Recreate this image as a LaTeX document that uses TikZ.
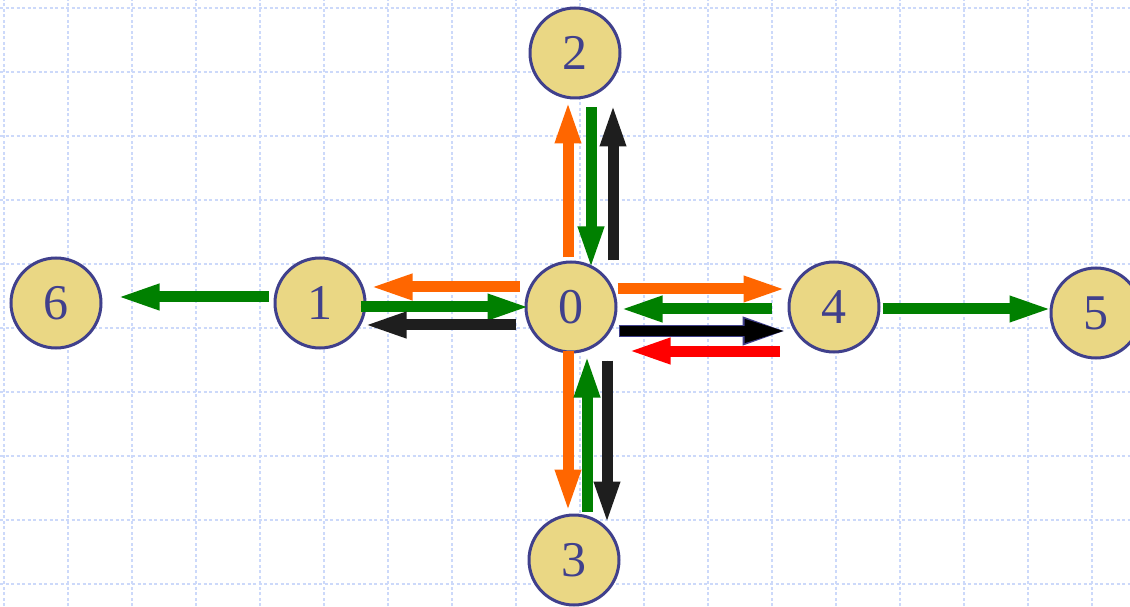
\documentclass[tikz,border=0pt]{standalone}
\usepackage{fontspec}
\setmainfont{Liberation Serif}
\usetikzlibrary{arrows.meta,positioning}

\definecolor{gridblue}{RGB}{204,217,250}
\definecolor{nodefill}{RGB}{234,215,132}
\definecolor{nodeline}{RGB}{64,64,140}
\definecolor{orng}{RGB}{255,102,0}
\definecolor{grn}{RGB}{0,128,0}
\definecolor{blk}{RGB}{30,30,30}
\definecolor{rd}{RGB}{255,0,0}

\begin{document}
\begin{tikzpicture}[
    x=1pt,y=1pt,
    vertex/.style={
        draw=nodeline, line width=3pt,
        circle,
        fill=nodefill,
        minimum size=90pt,
        inner sep=0pt,
        font=\fontsize{50}{50}\selectfont,
        text=nodeline
    },
    arr/.style={
        line width=11pt,
        -{Triangle[length=44pt,width=23pt]}
    },
    orangearr/.style={arr, draw=orng, fill=orng},
    greenarr/.style={arr, draw=grn, fill=grn},
    blackarr/.style={arr, draw=blk, fill=blk},
    redarr/.style={arr, draw=rd, fill=rd},
    outlinearr/.style={
        draw=nodeline, fill=nodeline,
        line width=12.5pt,
        -{Triangle[length=46pt,width=25pt]}
    },
    innerarr/.style={
        draw=black, fill=black,
        line width=9.5pt,
        -{Triangle[length=43pt,width=21pt]}
    }
]

\fill[white] (0,0) rectangle (1130,606);
\useasboundingbox (0,0) rectangle (1130,606);

% ====== grid ======
\foreach \gx in {0,...,17}
    \draw[gridblue, line width=1.8pt, dash pattern=on 3pt off 2.5pt]
        (4+64*\gx,0) -- (4+64*\gx,606);
\foreach \gy in {0,...,9}
    \draw[gridblue, line width=1.8pt, dash pattern=on 3pt off 2.5pt]
        (0,598-64*\gy) -- (1130,598-64*\gy);

% ====== nodes ======
\node[vertex] (n0) at (571,299) {0};
\node[vertex] (n1) at (320,303) {1};
\node[vertex] (n2) at (575,553) {2};
\node[vertex] (n3) at (574,46)  {3};
\node[vertex] (n4) at (834,299) {4};
\node[vertex] (n5) at (1096,293) {5};
\node[vertex] (n6) at (56,303)  {6};

% ====== 0 <-> 4 ======
\draw[orangearr] ([yshift=18pt]n0.east) -- ([yshift=18pt]n4.west);
\draw[greenarr] ([xshift=-16pt,yshift=-2pt]n4.west) -- ([xshift=1pt,yshift=-2pt]n0.east);
\draw[outlinearr] ([xshift=1pt,yshift=-24pt]n0.east) -- ([xshift=1pt,yshift=-24pt]n4.west);
\draw[innerarr] ([xshift=2pt,yshift=-24pt]n0.east) -- ([xshift=0pt,yshift=-24pt]n4.west);
\draw[redarr] ([xshift=-8pt,yshift=-44pt]n4.west) -- ([xshift=9pt,yshift=-44pt]n0.east);

% ====== 0 <-> 1 ======
\draw[orangearr] ([xshift=-5pt,yshift=20pt]n0.west) -- ([xshift=2pt,yshift=16pt]n1.east);
\draw[greenarr] ([xshift=-6pt,yshift=-4pt]n1.east) -- ([xshift=7pt]n0.west);
\draw[blackarr] ([xshift=-9pt,yshift=-18pt]n0.west) -- ([xshift=-4pt,yshift=-22pt]n1.east);

% ====== 1 -> 6, 4 -> 5 ======
\draw[greenarr] ([xshift=-5pt,yshift=6pt]n1.west) -- ([xshift=13pt,yshift=6pt]n6.east);
\draw[greenarr] ([xshift=2pt,yshift=-2pt]n4.east) -- ([xshift=4pt,yshift=4pt]n5.west);

% ====== 0 <-> 2 ======
\draw[orangearr] ([xshift=-3pt,yshift=3pt]n0.north) -- ([xshift=-7pt]n2.south);
\draw[greenarr] ([xshift=16pt,yshift=-8pt]n2.south) -- ([xshift=20pt,yshift=-10pt]n0.north);
\draw[blackarr] ([xshift=42pt]n0.north) -- ([xshift=38pt,yshift=-3pt]n2.south);

% ====== 0 <-> 3 ======
\draw[orangearr] ([xshift=-3pt,yshift=3pt]n0.south) -- ([xshift=-6pt]n3.north);
\draw[greenarr] ([xshift=13pt,yshift=2pt]n3.north) -- ([xshift=16pt]n0.south);
\draw[blackarr] ([xshift=36pt,yshift=-7pt]n0.south) -- ([xshift=33pt,yshift=-12pt]n3.north);

\end{tikzpicture}
\end{document}
